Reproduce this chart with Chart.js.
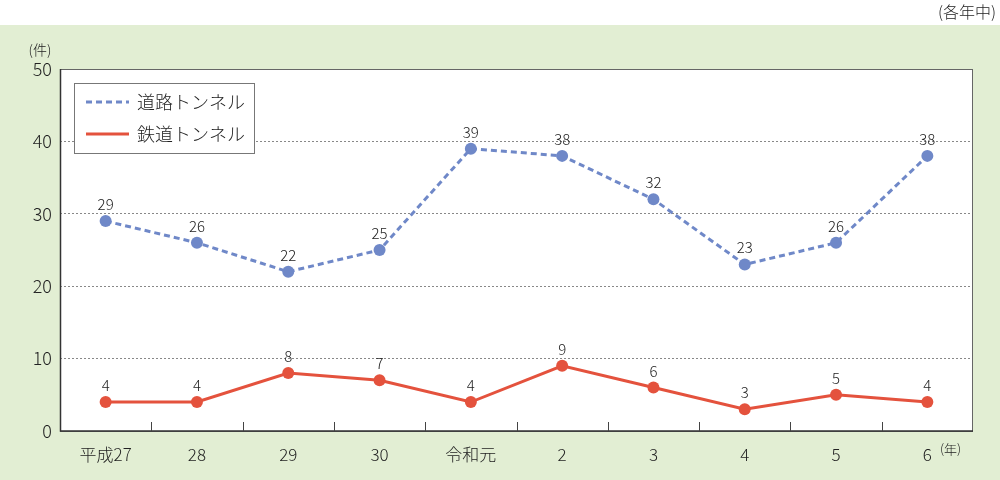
<!DOCTYPE html>
<html><head><meta charset="utf-8">
<script src="https://cdn.jsdelivr.net/npm/chart.js@4/dist/chart.umd.min.js"></script>
<style>html,body{margin:0;padding:0;background:#fff;}#wrap{width:1000px;height:480px;position:relative;}</style>
</head><body><div id="wrap"><canvas id="c" width="1000" height="480"></canvas></div>
<script>
const categories = ["平成27","28","29","30","令和元","2","3","4","5","6"];
const roadTunnel = [29,26,22,25,39,38,32,23,26,38];
const railTunnel = [4,4,8,7,4,9,6,3,5,4];
const yTicks = [0,10,20,30,40,50];
const FONT = "'Noto Sans CJK JP','Noto Sans',sans-serif";
const BLUE = "#6f88c8", RED = "#e4523d", GREEN = "#e2eed3", TXT = "#222";

const deco = {
  id: 'deco',
  beforeDraw(chart) {
    const {ctx, chartArea: a} = chart;
    ctx.save();
    ctx.fillStyle = '#fff'; ctx.fillRect(0,0,1000,25);
    ctx.fillStyle = GREEN; ctx.fillRect(0,25,1000,455);
    ctx.fillStyle = '#fff'; ctx.fillRect(a.left,a.top,a.right-a.left,a.bottom-a.top);
    ctx.restore();
  },
  afterDatasetsDraw(chart) {
    const {ctx, chartArea: a, scales} = chart;
    ctx.save();
    ctx.strokeStyle = '#666'; ctx.lineWidth = 1;
    ctx.strokeRect(a.left+0.5, a.top+0.5, a.right-a.left-1, a.bottom-a.top);
    ctx.strokeStyle = '#333'; ctx.lineWidth = 1.5;
    ctx.beginPath(); ctx.moveTo(a.left+0.5,a.top); ctx.lineTo(a.left+0.5,a.bottom); ctx.lineTo(a.right,a.bottom); ctx.stroke();
    const x = scales.x;
    ctx.strokeStyle = '#444'; ctx.lineWidth = 1;
    for (let i=1;i<categories.length;i++){
      const px = Math.round((x.getPixelForValue(i-1)+x.getPixelForValue(i))/2)+0.5;
      ctx.beginPath(); ctx.moveTo(px,a.bottom); ctx.lineTo(px,a.bottom-9); ctx.stroke();
    }
    ctx.fillStyle = TXT; ctx.font = "300 15px "+FONT; ctx.textAlign='center'; ctx.textBaseline='alphabetic';
    chart.data.datasets.forEach((ds,di)=>{
      chart.getDatasetMeta(di).data.forEach((pt,i)=>{
        ctx.fillText(String(ds.data[i]), pt.x, pt.y-11);
      });
    });
    ctx.fillStyle='#fff'; ctx.fillRect(74,83,180,70);
    ctx.strokeStyle='#777'; ctx.lineWidth=1; ctx.strokeRect(74.5,83.5,180,70);
    ctx.lineWidth=3;
    ctx.strokeStyle=BLUE; ctx.setLineDash([6,4]); ctx.beginPath(); ctx.moveTo(86,102); ctx.lineTo(129,102); ctx.stroke();
    ctx.strokeStyle=RED; ctx.setLineDash([]); ctx.beginPath(); ctx.moveTo(86,134); ctx.lineTo(129,134); ctx.stroke();
    ctx.fillStyle=TXT; ctx.font="300 18px "+FONT; ctx.textAlign='left'; ctx.textBaseline='middle';
    ctx.fillText(chart.data.datasets[0].label,137,102);
    ctx.fillText(chart.data.datasets[1].label,137,134);
    ctx.font="300 14px "+FONT; ctx.textAlign='center';
    ctx.fillText("(件)",40,50);
    ctx.font="300 16px "+FONT; ctx.textAlign='right'; ctx.fillText("(各年中)",996,12);
    ctx.font="300 13px "+FONT; ctx.textAlign='left'; ctx.fillText("(年)",940,449);
    ctx.restore();
  }
};

new Chart(document.getElementById('c'), {
  type:'line',
  data:{ labels:categories, datasets:[
    {label:'道路トンネル', data:roadTunnel, borderColor:BLUE, backgroundColor:BLUE, borderWidth:3, borderDash:[6,4], pointRadius:6, pointHoverRadius:6, pointBackgroundColor:BLUE, pointBorderWidth:0, tension:0},
    {label:'鉄道トンネル', data:railTunnel, borderColor:RED, backgroundColor:RED, borderWidth:3, pointRadius:6, pointHoverRadius:6, pointBackgroundColor:RED, pointBorderWidth:0, tension:0}
  ]},
  options:{
    responsive:false, animation:false, devicePixelRatio:1,
    layout:{padding:{left:0,right:27,top:69,bottom:0}},
    plugins:{legend:{display:false}, tooltip:{enabled:false}},
    scales:{
      x:{ offset:true, grid:{display:false}, border:{display:false},
          ticks:{color:TXT, font:{family:FONT,size:17,weight:300}, padding:5, maxRotation:0, autoSkip:false},
          afterFit(s){ s.height = 49; } },
      y:{ min:0, max:50, afterBuildTicks(s){ s.ticks = yTicks.map(v=>({value:v})); },
          grid:{color:'#888', drawTicks:false, lineWidth:(c)=> (c.tick && (c.tick.value===0||c.tick.value===50)) ? 0 : 1},
          border:{display:false, dash:[2,2]},
          ticks:{color:TXT, font:{family:FONT,size:18,weight:300}, padding:8},
          afterFit(s){ s.width = 60; } }
    }
  },
  plugins:[deco]
});
</script></body></html>
